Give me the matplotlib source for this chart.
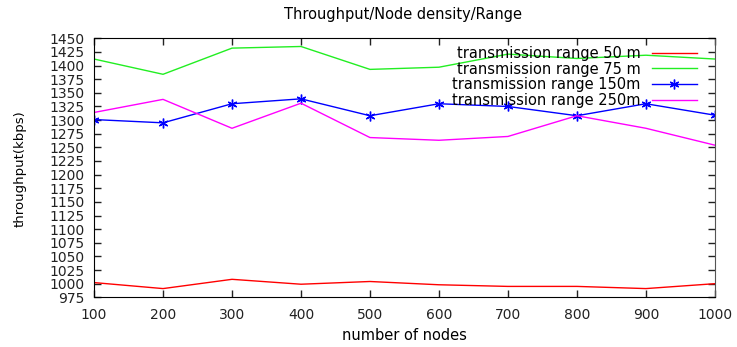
import numpy as np
import matplotlib.pyplot as plt
from matplotlib.ticker import MultipleLocator

# number of nodes
nodes = [100, 200, 300, 400, 500, 600, 700, 800, 900, 1000]

# throughput (kbps) per transmission range
range_50 = [1002, 991, 1008, 999, 1004, 998, 995, 995, 991, 1000]
range_75 = [1412, 1384, 1432, 1435, 1393, 1397, 1421, 1413, 1419, 1412]
range_150 = [1301, 1295, 1330, 1339, 1308, 1330, 1325, 1308, 1330, 1309]
range_250 = [1314, 1338, 1285, 1331, 1268, 1263, 1270, 1308, 1285, 1254]

labels = ['transmission range 50 m', 'transmission range 75 m',
          'transmission range 150m', 'transmission range 250m']

plt.rcParams['font.family'] = 'DejaVu Sans'

fig = plt.figure(figsize=(7.37, 3.47), dpi=100)
ax = fig.add_axes([0.1276, 0.1432, 0.8424, 0.7464])

asterisk = (6, 2, 0)
ax.plot(nodes, range_50, color='#ff0000', lw=1, label=labels[0])
ax.plot(nodes, range_75, color='#22ee22', lw=1, label=labels[1])
ax.plot(nodes, range_150, color='#0000ff', lw=1, marker=asterisk,
        markersize=7, markeredgewidth=1, label=labels[2])
ax.plot(nodes, range_250, color='#ff00ff', lw=1, label=labels[3])

ax.set_xlim(100, 1000)
ax.set_ylim(975, 1450)
ax.xaxis.set_major_locator(MultipleLocator(100))
ax.yaxis.set_major_locator(MultipleLocator(25))
ax.tick_params(direction='in', top=True, right=True, length=5, width=1,
               labelsize=10, pad=7, colors='#222222')
ax.tick_params(axis='x', pad=8)
for side in ['left', 'bottom', 'top']:
    ax.spines[side].set_color('black')
ax.spines['right'].set_color('#555555')

fig.text(403 / 737, 1 - 15 / 347, 'Throughput/Node density/Range',
         ha='center', va='center', fontsize=10.5)
fig.text(404 / 737, 1 - 336 / 347, 'number of nodes',
         ha='center', va='center', fontsize=10.5)
fig.text(20 / 737, 1 - 169 / 347, 'throughput(kbps)', rotation=90,
         ha='center', va='center', fontsize=9.5)

leg = ax.legend(loc='upper right', bbox_to_anchor=(697 / 737, 1 - 46 / 347),
                bbox_transform=fig.transFigure, borderaxespad=0,
                markerfirst=False, frameon=False, fontsize=10.5,
                handlelength=3.1, handletextpad=0.75, labelspacing=0.04,
                borderpad=0)

fig.savefig('out.png', dpi=100)
